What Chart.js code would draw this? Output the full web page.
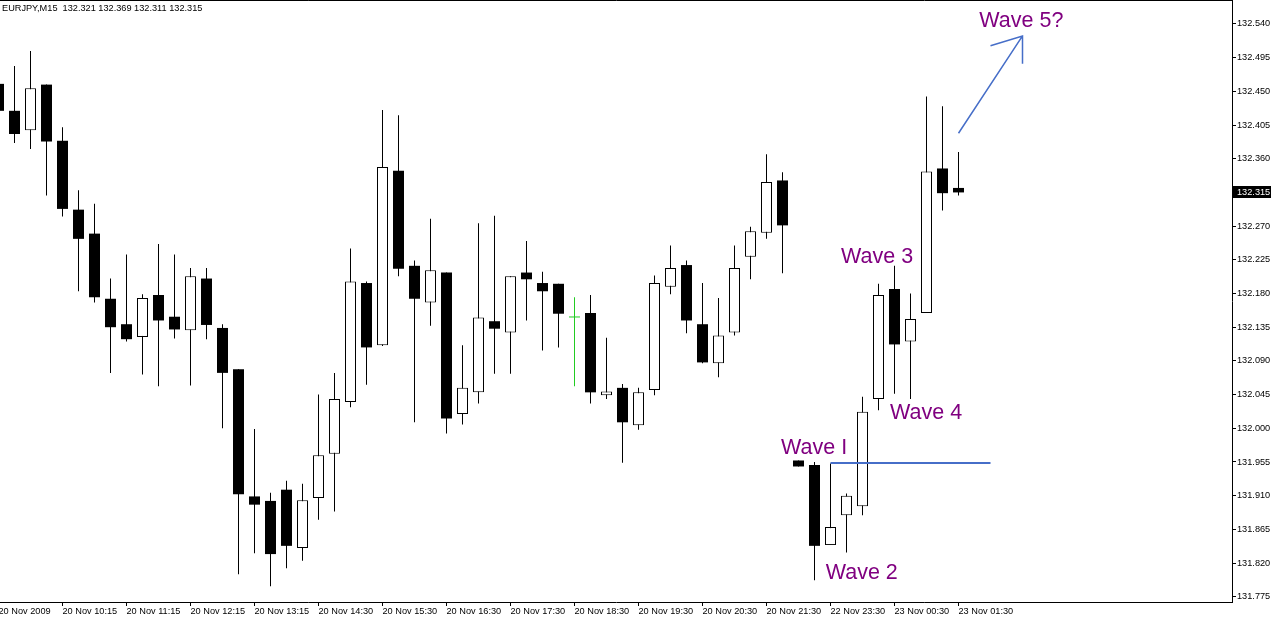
<!DOCTYPE html>
<html>
<head>
<meta charset="utf-8">
<script src="https://cdn.jsdelivr.net/npm/chart.js@4.4.0/dist/chart.umd.min.js"></script>
<style>
  html, body { margin: 0; padding: 0; background: #fff; }
</style>
</head>
<body>
<canvas id="myChart" width="1272" height="619"></canvas>
<script>
// EURJPY M15 bars (index 0 = leftmost bar)
const symbol = "EURJPY,M15";
const opens = [
  132.460, 132.424, 132.398, 132.459, 132.384, 132.292, 132.260, 132.173, 132.139, 132.122,
  132.178, 132.149, 132.131, 132.200, 132.134, 132.079, 131.909, 131.903, 131.918, 131.840,
  131.907, 131.966, 132.035, 132.194, 132.111, 132.344, 132.217, 132.168, 132.208, 132.019,
  132.048, 132.143, 132.128, 132.208, 132.194, 132.193, 132.148, 132.154, 132.044, 132.054,
  132.004, 132.051, 132.189, 132.218, 132.139, 132.087, 132.128, 132.229, 132.261, 132.331,
  131.957, 131.951, 131.844, 131.884, 131.896, 132.039, 132.186, 132.116, 132.154, 132.347,
  132.321
];
const highs = [
  132.460, 132.484, 132.504, 132.459, 132.402, 132.318, 132.300, 132.200, 132.232, 132.179,
  132.246, 132.232, 132.214, 132.214, 132.139, 132.079, 131.999, 131.914, 131.930, 131.926,
  132.045, 132.074, 132.240, 132.196, 132.425, 132.418, 132.224, 132.280, 132.208, 132.111,
  132.274, 132.284, 132.203, 132.250, 132.209, 132.193, 132.175, 132.178, 132.121, 132.059,
  132.054, 132.204, 132.244, 132.224, 132.194, 132.174, 132.244, 132.269, 132.366, 132.342,
  131.957, 131.955, 131.953, 131.913, 132.042, 132.193, 132.217, 132.180, 132.443, 132.430,
  132.369
];
const lows = [
  132.424, 132.381, 132.373, 132.311, 132.283, 132.183, 132.168, 132.074, 132.116, 132.072,
  132.056, 132.120, 132.057, 132.119, 132.000, 131.805, 131.833, 131.789, 131.813, 131.823,
  131.878, 131.889, 132.028, 132.058, 132.110, 132.203, 132.008, 132.137, 131.993, 132.005,
  132.033, 132.073, 132.073, 132.144, 132.104, 132.108, 132.056, 132.033, 132.039, 131.954,
  131.998, 132.044, 132.179, 132.127, 132.087, 132.068, 132.124, 132.199, 132.253, 132.207,
  131.949, 131.797, 131.844, 131.834, 131.884, 132.024, 132.046, 132.039, 132.154, 132.291,
  132.311
];
const closes = [
  132.424, 132.393, 132.454, 132.383, 132.293, 132.253, 132.175, 132.135, 132.119, 132.174,
  132.144, 132.132, 132.203, 132.138, 132.074, 131.912, 131.898, 131.832, 131.843, 131.904,
  131.964, 132.039, 132.196, 132.108, 132.349, 132.213, 132.173, 132.211, 132.013, 132.054,
  132.148, 132.133, 132.203, 132.199, 132.183, 132.153, 132.148, 132.048, 132.049, 132.008,
  132.048, 132.194, 132.214, 132.144, 132.088, 132.124, 132.214, 132.263, 132.329, 132.271,
  131.949, 131.843, 131.868, 131.910, 132.022, 132.178, 132.112, 132.146, 132.343, 132.314,
  132.315
];

// time labels under the axis, one every 4 bars
const timeLabels = [
  "20 Nov 2009", "20 Nov 10:15", "20 Nov 11:15", "20 Nov 12:15", "20 Nov 13:15",
  "20 Nov 14:30", "20 Nov 15:30", "20 Nov 16:30", "20 Nov 17:30", "20 Nov 18:30",
  "20 Nov 19:30", "20 Nov 20:30", "20 Nov 21:30", "22 Nov 23:30", "23 Nov 00:30",
  "23 Nov 01:30"
];
const barsPerLabel = 4;

// price ticks on the right axis
const priceTicks = [
  132.540, 132.495, 132.450, 132.405, 132.360, 132.315, 132.270, 132.225, 132.180,
  132.135, 132.090, 132.045, 132.000, 131.955, 131.910, 131.865, 131.820, 131.775
];

// hand drawn notes (bar index / price)
const waveNames = ["Wave 5?", "Wave 3", "Wave 4", "Wave I", "Wave 2"];
const waveBars = [61.3, 52.66, 55.72, 48.91, 51.7];
const wavePrices = [132.536, 132.221, 132.012, 131.965, 131.799];
const levelLine = { from: 52, to: 62, price: 131.953 };
const arrowLine = { from: [60, 132.394], to: [64, 132.524], headA: [62, 132.511], headB: [64, 132.487] };

const FONT = "Liberation Sans";
const DOJI = "#22cc22";
const BLUE = "rgb(70,110,200)";
const PURPLE = "#800080";

// colours for each bar (white bodies get an outline, black ones are just filled)
const bodyFill = [];
const bodyEdge = [];
const bodyEdgeWidth = [];
const wickColor = [];
for (let i = 0; i < opens.length; i++) {
  if (closes[i] > opens[i]) {
    bodyFill.push("#ffffff"); bodyEdge.push("#000000"); bodyEdgeWidth.push(1); wickColor.push("#000000");
  } else if (closes[i] < opens[i]) {
    bodyFill.push("#000000"); bodyEdge.push("#000000"); bodyEdgeWidth.push(0); wickColor.push("#000000");
  } else {
    bodyFill.push(DOJI); bodyEdge.push(DOJI); bodyEdgeWidth.push(0); wickColor.push(DOJI);
  }
}

const bodies = opens.map((o, i) => ({ x: i, y: [o, closes[i]] }));
const wicks = lows.map((l, i) => ({ x: i, y: [l, highs[i]] }));

// Notes, title and the current price box
const overlay = {
  id: "overlay",
  afterDraw(chart) {
    const ctx = chart.ctx;
    const xs = chart.scales.x;
    const ys = chart.scales.y;
    const area = chart.chartArea;
    const px = (b) => xs.getPixelForValue(b);
    const py = (p) => ys.getPixelForValue(p);
    ctx.save();

    // top frame line
    ctx.strokeStyle = "#000";
    ctx.lineWidth = 1;
    ctx.beginPath();
    ctx.moveTo(0, 0.5);
    ctx.lineTo(area.right + 0.5, 0.5);
    ctx.stroke();

    // title with last bar OHLC
    const last = opens.length - 1;
    const ohlc = [opens[last], highs[last], lows[last], closes[last]].map(v => v.toFixed(3)).join(" ");
    ctx.fillStyle = "#000";
    ctx.font = "9.2px '" + FONT + "'";
    ctx.textBaseline = "alphabetic";
    ctx.textAlign = "left";
    ctx.fillText(symbol + "  " + ohlc, 2, 11);

    // wave labels
    ctx.fillStyle = PURPLE;
    ctx.font = "21.5px '" + FONT + "'";
    waveNames.forEach((name, i) => {
      ctx.fillText(name, px(waveBars[i]), py(wavePrices[i]));
    });

    // blue level line
    ctx.strokeStyle = BLUE;
    ctx.lineWidth = 2;
    ctx.beginPath();
    const ly = Math.round(py(levelLine.price));
    ctx.moveTo(px(levelLine.from), ly);
    ctx.lineTo(px(levelLine.to), ly);
    ctx.stroke();

    // arrow
    ctx.lineWidth = 1.5;
    ctx.beginPath();
    ctx.moveTo(px(arrowLine.from[0]), py(arrowLine.from[1]));
    ctx.lineTo(px(arrowLine.to[0]), py(arrowLine.to[1]));
    ctx.moveTo(px(arrowLine.headA[0]), py(arrowLine.headA[1]));
    ctx.lineTo(px(arrowLine.to[0]), py(arrowLine.to[1]));
    ctx.lineTo(px(arrowLine.headB[0]), py(arrowLine.headB[1]));
    ctx.stroke();

    // current price box on the axis
    const cy = Math.round(py(closes[last]));
    ctx.fillStyle = "#000";
    ctx.fillRect(area.right + 1, cy - 6, 38, 12);
    ctx.fillStyle = "#fff";
    ctx.font = "9.2px '" + FONT + "'";
    ctx.textBaseline = "middle";
    ctx.fillText(closes[last].toFixed(3), area.right + 5, cy + 0.5);

    ctx.restore();
  }
};

const ctx = document.getElementById("myChart").getContext("2d");
const chart = new Chart(ctx, {
  type: "bar",
  data: {
    datasets: [
      {
        label: "body",
        data: bodies,
        backgroundColor: bodyFill,
        borderColor: bodyEdge,
        borderWidth: bodyEdgeWidth,
        borderSkipped: false,
        inflateAmount: 0,
        minBarLength: 1,
        maxBarThickness: 11,
        grouped: false,
        order: 0,
      },
      {
        label: "wick",
        data: wicks,
        backgroundColor: wickColor,
        borderWidth: 0,
        inflateAmount: 0,
        maxBarThickness: 1,
        grouped: false,
        order: 1,
      },
    ],
  },
  options: {
    responsive: false,
    animation: false,
    devicePixelRatio: 1,
    layout: { padding: 0 },
    plugins: { legend: { display: false }, tooltip: { enabled: false } },
    scales: {
      x: {
        type: "linear",
        offset: false,
        min: 0.09375,
        max: 77.09375,
        afterBuildTicks: (s) => {
          s.ticks = timeLabels.map((t, i) => ({ value: i * barsPerLabel }));
        },
        afterFit: (s) => {
          s.height = 17;
          s.paddingLeft = 0;
          s.paddingRight = 0;
        },
        grid: { drawOnChartArea: false, offset: false, color: "#000", tickLength: 4 },
        border: { color: "#000", width: 1 },
        ticks: {
          autoSkip: false,
          maxRotation: 0,
          align: "start",
          padding: 0,
          color: "#000",
          font: { family: FONT, size: 9.2 },
          callback: (v, i) => timeLabels[i],
        },
      },
      y: {
        type: "linear",
        position: "right",
        beginAtZero: false,
        min: 131.768,
        max: 132.572,
        afterBuildTicks: (s) => {
          s.ticks = priceTicks.map((v) => ({ value: v }));
        },
        afterFit: (s) => {
          s.width = 40;
          s.paddingTop = 0;
          s.paddingBottom = 0;
        },
        grid: { drawOnChartArea: false, color: "#000", tickLength: 4 },
        border: { color: "#000", width: 1 },
        ticks: {
          padding: 1,
          color: "#000",
          font: { family: FONT, size: 9.2 },
          callback: (v) => Number(v).toFixed(3),
        },
      },
    },
  },
  plugins: [overlay],
});
</script>
</body>
</html>
